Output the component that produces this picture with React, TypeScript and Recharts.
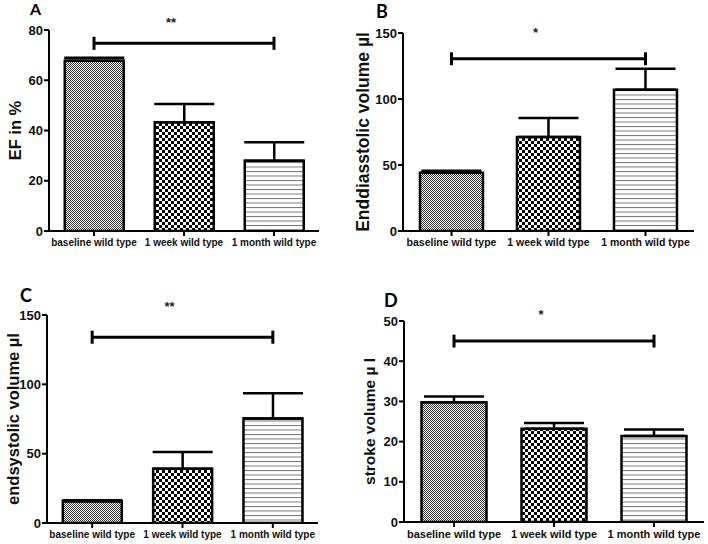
import React from 'react';
import { BarChart, Bar, XAxis, YAxis, ErrorBar, Cell, ReferenceLine, ReferenceDot } from 'recharts';

const categories = ['baseline wild type', '1 week wild type', '1 month wild type'];

const efMean = [67.8, 43.3, 28.0];
const efSem = [1.2, 7.2, 7.3];
const edvMean = [44.2, 71.2, 107.0];
const edvSem = [1.5, 14.5, 16.0];
const esvMean = [15.7, 39.1, 75.4];
const esvSem = [0.7, 12.1, 18.1];
const svMean = [29.8, 23.2, 21.4];
const svSem = [1.4, 1.4, 1.6];

const efTicks = [0, 20, 40, 60, 80];
const edvTicks = [0, 50, 100, 150];
const esvTicks = [0, 50, 100, 150];
const svTicks = [0, 10, 20, 30, 40, 50];

const FONT = 'Liberation Sans, Arial, Helvetica, sans-serif';

type PanelProps = {
  id: string;
  letter: string;
  left: number;
  top: number;
  width: number;
  height: number;
  margin: { top: number; right: number; bottom: number; left: number };
  yWidth: number;
  yLabel: string;
  yLabelSize: number;
  yLabelOffset: number;
  ticks: number[];
  means: number[];
  sems: number[];
  bracketY: number;
  capHalf: number;
  starY: number;
  stars: string;
  xFont: number;
  yFont: number;
  letterSize: number;
  letterLeft: number;
  letterTop: number;
};

function Panel(p: PanelProps) {
  const data = categories.map((c, i) => ({ name: c, value: p.means[i], err: [0, p.sems[i]] }));
  const fills = [`url(#${p.id}-fine)`, `url(#${p.id}-coarse)`, `url(#${p.id}-stripe)`];
  const first = categories[0];
  const last = categories[categories.length - 1];
  const mid = categories[1];
  const maxTick = p.ticks[p.ticks.length - 1];
  return (
    <div style={{ position: 'absolute', left: p.left, top: p.top, width: p.width, height: p.height }}>
      <BarChart
        width={p.width}
        height={p.height}
        data={data}
        margin={p.margin}
        barCategoryGap="17.5%"
      >
        <defs>
          <pattern id={`${p.id}-fine`} width="2" height="2" patternUnits="userSpaceOnUse">
            <rect width="2" height="2" fill="#ffffff" />
            <rect x="0" y="0" width="1" height="1" fill="#333333" />
            <rect x="1" y="1" width="1" height="1" fill="#333333" />
          </pattern>
          <pattern id={`${p.id}-coarse`} width="6" height="6" patternUnits="userSpaceOnUse">
            <rect width="6" height="6" fill="#ffffff" />
            <rect x="0" y="0" width="3" height="3" fill="#000000" />
            <rect x="3" y="3" width="3" height="3" fill="#000000" />
          </pattern>
          <pattern id={`${p.id}-stripe`} width="4" height="4.5" patternUnits="userSpaceOnUse">
            <rect width="4" height="4.5" fill="#ffffff" />
            <rect x="0" y="0" width="4" height="1" fill="#777777" />
          </pattern>
        </defs>
        <XAxis
          dataKey="name"
          height={20}
          axisLine={{ stroke: '#000', strokeWidth: 2 }}
          tickLine={{ stroke: '#000', strokeWidth: 2 }}
          tickSize={5}
          tickMargin={3}
          interval={0}
          tick={{ fill: '#111', fontSize: p.xFont, fontWeight: 'bold', fontFamily: FONT }}
        />
        <YAxis
          width={p.yWidth}
          domain={[0, maxTick]}
          ticks={p.ticks}
          allowDataOverflow
          axisLine={{ stroke: '#000', strokeWidth: 2 }}
          tickLine={{ stroke: '#000', strokeWidth: 2 }}
          tickSize={5}
          tickMargin={1}
          tick={{ fill: '#111', fontSize: p.yFont, fontWeight: 'bold', fontFamily: FONT }}
          label={{
            value: p.yLabel,
            angle: -90,
            position: 'insideLeft',
            offset: p.yLabelOffset,
            style: { textAnchor: 'middle', fontSize: p.yLabelSize, fontWeight: 'bold', fontFamily: FONT, fill: '#111' },
          }}
        />
        <Bar dataKey="value" stroke="#000" strokeWidth={2.5} isAnimationActive={false}>
          {data.map((d, i) => (
            <Cell key={d.name} fill={fills[i]} />
          ))}
          <ErrorBar dataKey="err" width={30} stroke="#000" strokeWidth={2.5} direction="y" />
        </Bar>
        <ReferenceLine
          segment={[{ x: first, y: p.bracketY }, { x: last, y: p.bracketY }]}
          stroke="#000"
          strokeWidth={3}
          ifOverflow="visible"
        />
        <ReferenceLine
          segment={[{ x: first, y: p.bracketY - p.capHalf }, { x: first, y: p.bracketY + p.capHalf }]}
          stroke="#000"
          strokeWidth={3}
          ifOverflow="visible"
        />
        <ReferenceLine
          segment={[{ x: last, y: p.bracketY - p.capHalf }, { x: last, y: p.bracketY + p.capHalf }]}
          stroke="#000"
          strokeWidth={3}
          ifOverflow="visible"
        />
        <ReferenceDot
          x={mid}
          y={p.starY}
          r={0}
          fill="none"
          stroke="none"
          ifOverflow="visible"
          label={{
            value: p.stars,
            position: 'center',
            dx: -13,
            style: { fontSize: 13, fontWeight: 'bold', fontFamily: FONT, fill: '#222' },
          }}
        />
      </BarChart>
      <div
        style={{
          position: 'absolute',
          left: p.letterLeft,
          top: p.letterTop,
          fontFamily: 'Lato, "Open Sans", sans-serif',
          fontWeight: 'bold',
          fontSize: p.letterSize,
          lineHeight: 1,
          color: '#000',
        }}
      >
        {p.letter}
      </div>
    </div>
  );
}

export default function App() {
  return (
    <div style={{ position: 'absolute', left: 0, top: 0, width: 708, height: 544, background: '#fff', overflow: 'hidden' }}>
      <Panel
        id="pa"
        letter="A"
        left={0}
        top={0}
        width={354}
        height={272}
        margin={{ top: 30, right: 35, bottom: 21, left: 0 }}
        yWidth={49}
        yLabel="EF in %"
        yLabelSize={16.5}
        yLabelOffset={15}
        ticks={efTicks}
        means={efMean}
        sems={efSem}
        bracketY={74.7}
        capHalf={2.6}
        starY={83}
        stars="**"
        xFont={10}
        yFont={13}
        letterSize={16}
        letterLeft={30}
        letterTop={1}
      />
      <Panel
        id="pb"
        letter="B"
        left={354}
        top={0}
        width={354}
        height={272}
        margin={{ top: 33, right: 14, bottom: 21, left: 0 }}
        yWidth={49}
        yLabel="Enddiasstolic volume µl"
        yLabelSize={17.5}
        yLabelOffset={9}
        ticks={edvTicks}
        means={edvMean}
        sems={edvSem}
        bracketY={130.5}
        capHalf={4.9}
        starY={150.5}
        stars="*"
        xFont={10.5}
        yFont={13}
        letterSize={18}
        letterLeft={22}
        letterTop={2}
      />
      <Panel
        id="pc"
        letter="C"
        left={0}
        top={272}
        width={354}
        height={272}
        margin={{ top: 43, right: 36, bottom: 1, left: 0 }}
        yWidth={47}
        yLabel="endsystolic volume µl"
        yLabelSize={16.5}
        yLabelOffset={13}
        ticks={esvTicks}
        means={esvMean}
        sems={esvSem}
        bracketY={134}
        capHalf={4.7}
        starY={156}
        stars="**"
        xFont={10}
        yFont={13}
        letterSize={18}
        letterLeft={20}
        letterTop={14}
      />
      <Panel
        id="pd"
        letter="D"
        left={354}
        top={272}
        width={354}
        height={272}
        margin={{ top: 49, right: 4, bottom: 2, left: 0 }}
        yWidth={50}
        yLabel="stroke volume µ l"
        yLabelSize={15.5}
        yLabelOffset={15}
        ticks={svTicks}
        means={svMean}
        sems={svSem}
        bracketY={45}
        capHalf={1.6}
        starY={51.7}
        stars="*"
        xFont={11}
        yFont={13}
        letterSize={18}
        letterLeft={30}
        letterTop={19}
      />
    </div>
  );
}
